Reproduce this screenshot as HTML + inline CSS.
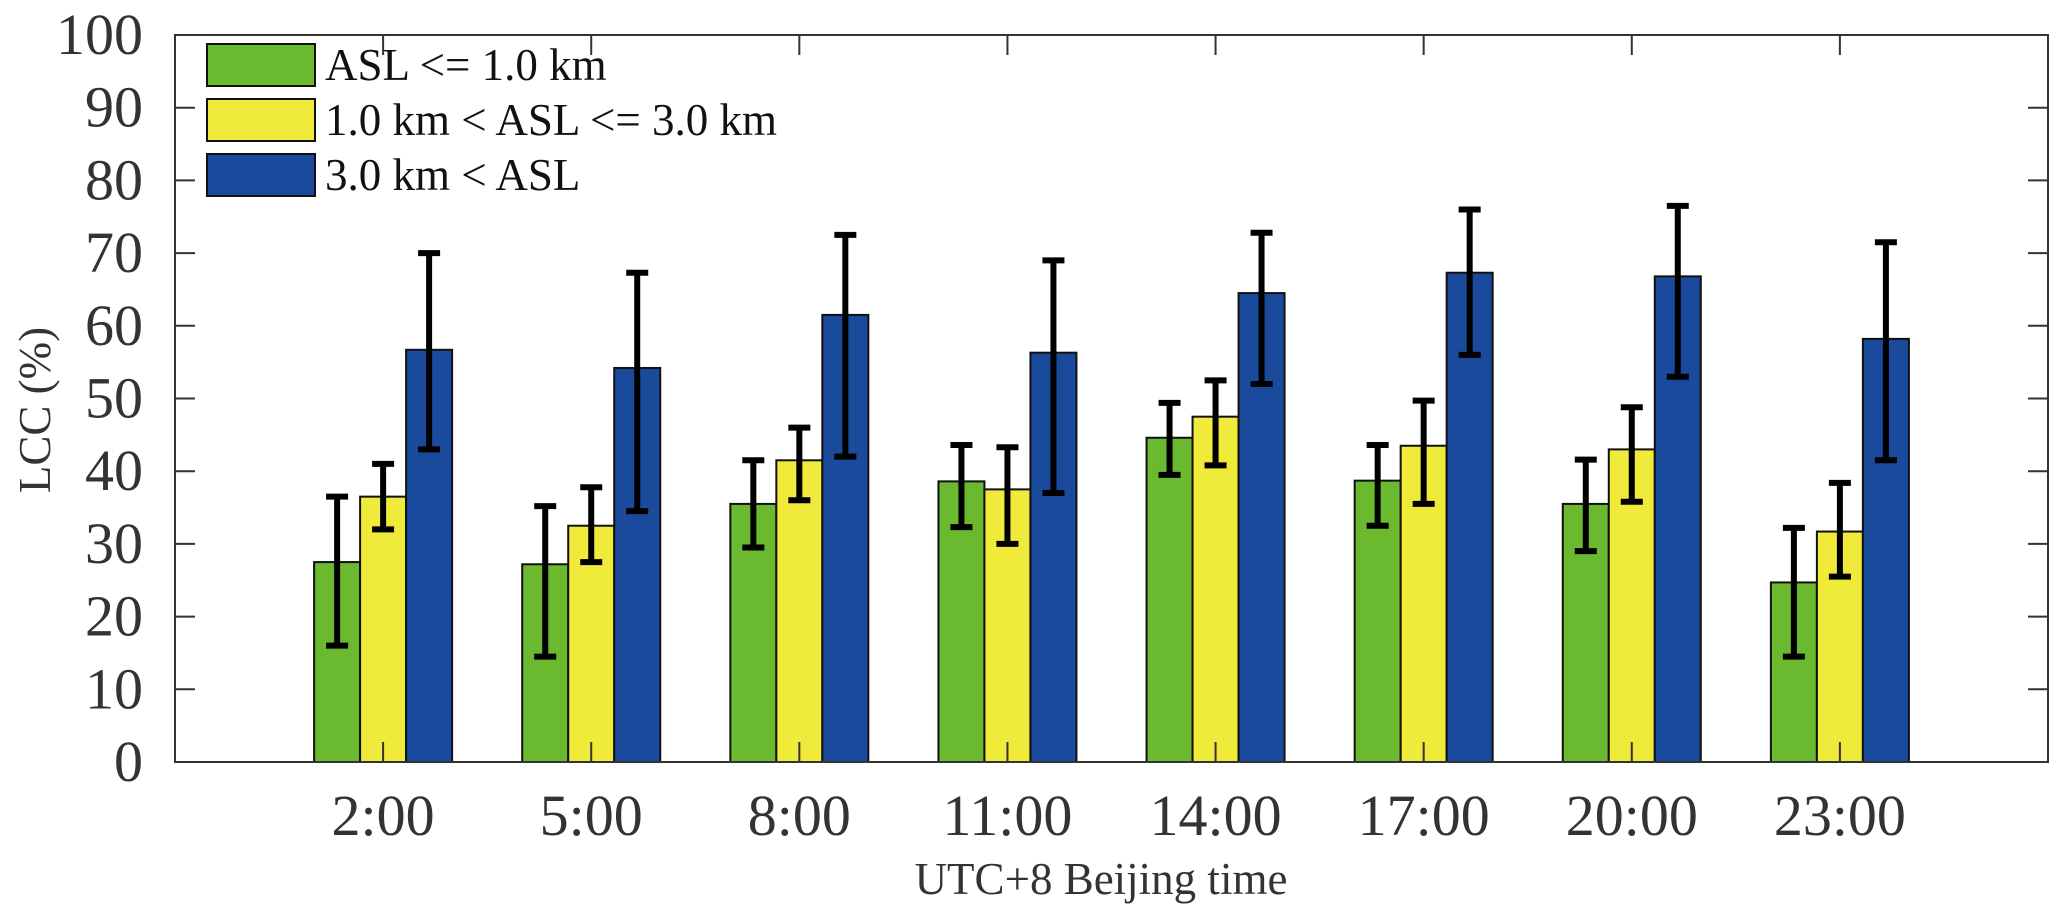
<!DOCTYPE html>
<html><head><meta charset="utf-8"><style>
html,body{margin:0;padding:0;background:#fff;}
svg{display:block;font-family:"Liberation Serif",serif;}
</style></head><body>
<svg id="chart" width="2067" height="923" xmlns="http://www.w3.org/2000/svg"></svg>
<script>
const categories = ["2:00","5:00","8:00","11:00","14:00","17:00","20:00","23:00"];
const seriesNames = ["ASL <= 1.0 km","1.0 km < ASL <= 3.0 km","3.0 km < ASL"];
const lowValues = [27.5,27.2,35.5,38.6,44.6,38.7,35.5,24.7];
const lowErrLo = [16,14.5,29.5,32.3,39.5,32.5,29,14.5];
const lowErrHi = [36.5,35.2,41.5,43.6,49.4,43.6,41.6,32.2];
const midValues = [36.5,32.5,41.5,37.5,47.5,43.5,43,31.7];
const midErrLo = [32,27.5,36,30,40.8,35.5,35.8,25.5];
const midErrHi = [41,37.8,46,43.3,52.5,49.7,48.8,38.4];
const highValues = [56.7,54.2,61.5,56.3,64.5,67.3,66.8,58.2];
const highErrLo = [43,34.5,42,37,52,56,53,41.5];
const highErrHi = [70,67.3,72.5,69,72.8,76,76.5,71.5];
const yTicks = [0,10,20,30,40,50,60,70,80,90,100];

const svg = document.getElementById('chart');
const NS = 'http://www.w3.org/2000/svg';
const L=175, R=2048, T=35, B=762;
const sp=(R-L)/9;
const xScale = i => L + sp*(i+1);
const yScale = v => B - (v/100)*(B-T);
function mk(tag, attrs){const e=document.createElementNS(NS,tag);for(const k in attrs)e.setAttribute(k,attrs[k]);svg.appendChild(e);return e;}

const colors=["#6ab92e","#f0ea3a","#1a4a9c"];
const vals=[lowValues,midValues,highValues], los=[lowErrLo,midErrLo,highErrLo], his=[lowErrHi,midErrHi,highErrHi];
const bw=46;
const names=["low","mid","high"];
for(let s=0;s<3;s++){
  for(let i=0;i<categories.length;i++){
    const cx=xScale(i)+(s-1)*bw;
    const r=mk('rect',{x:cx-bw/2,y:yScale(vals[s][i]),width:bw,height:B-yScale(vals[s][i]),fill:colors[s],stroke:'#111','stroke-width':2});
    
    
  }
}
for(let s=0;s<3;s++){
  for(let i=0;i<categories.length;i++){
    const cx=xScale(i)+(s-1)*bw;
    const g=document.createElementNS(NS,'g');svg.appendChild(g);
    
    
    const y1=yScale(his[s][i]), y2=yScale(los[s][i]);
    [[cx,y1,cx,y2],[cx-11,y1,cx+11,y1],[cx-11,y2,cx+11,y2]].forEach(c=>{
      const l=document.createElementNS(NS,'line');
      l.setAttribute('x1',c[0]);l.setAttribute('y1',c[1]);l.setAttribute('x2',c[2]);l.setAttribute('y2',c[3]);
      l.setAttribute('stroke','#000');l.setAttribute('stroke-width',6);g.appendChild(l);
    });
  }
}
// axes box
const box=mk('rect',{x:L,y:T,width:R-L,height:B-T,fill:'none',stroke:'#333','stroke-width':2});


yTicks.forEach(v=>{
  const y=yScale(v);
  mk('line',{x1:L,y1:y,x2:L+20,y2:y,stroke:'#333','stroke-width':2});
  mk('line',{x1:R,y1:y,x2:R-20,y2:y,stroke:'#333','stroke-width':2});
  const t=mk('text',{x:L-32,y:y+19,'text-anchor':'end','font-size':58,fill:'#333'});
  t.textContent=v;
  
  
});
categories.forEach((c,i)=>{
  const x=xScale(i);
  mk('line',{x1:x,y1:B,x2:x,y2:B-20,stroke:'#333','stroke-width':2});
  mk('line',{x1:x,y1:T,x2:x,y2:T+20,stroke:'#333','stroke-width':2});
  const t=mk('text',{x:x,y:835,'text-anchor':'middle','font-size':58,fill:'#333'});
  t.textContent=c;
  
  
});
const xt=mk('text',{x:1101,y:894,'text-anchor':'middle','font-size':45,fill:'#333'});
xt.textContent='UTC+8 Beijing time';


const yt=mk('text',{x:0,y:0,'text-anchor':'middle','font-size':45,fill:'#333',transform:'translate(50,410) rotate(-90)'});
yt.textContent='LCC (%)';


// legend
const ly=[44,99,154];
seriesNames.forEach((n,s)=>{
  const r=mk('rect',{x:207,y:ly[s],width:108,height:42,fill:colors[s],stroke:'#111','stroke-width':2});
  
  
  const t=mk('text',{x:325,y:ly[s]+36,'font-size':45,fill:'#111'});
  t.textContent=n;
  
  
});
</script>
</body></html>
